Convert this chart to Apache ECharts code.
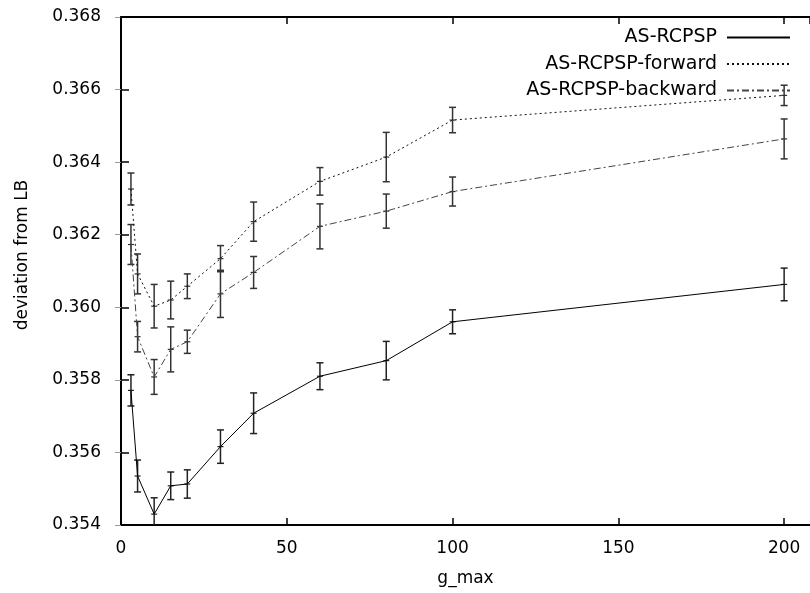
<!DOCTYPE html>
<html>
<head>
<meta charset="utf-8">
<script src="https://cdn.jsdelivr.net/npm/echarts@6/dist/echarts.min.js"></script>
<style>html,body{margin:0;padding:0;background:#fff}#c{width:810px;height:593px}</style>
</head>
<body>
<div id="c"></div>
<script>
const xs = [3, 5, 10, 15, 20, 30, 40, 60, 80, 100, 200];
const seriesNames = ['AS-RCPSP', 'AS-RCPSP-forward', 'AS-RCPSP-backward'];
const asMean = [0.35771, 0.35535, 0.35430, 0.35508, 0.35513, 0.35616, 0.35708, 0.35810, 0.35853, 0.35960, 0.36063];
const asErr  = [0.00043, 0.00044, 0.00045, 0.00038, 0.00039, 0.00046, 0.00056, 0.00037, 0.00053, 0.00033, 0.00045];
const fwMean = [0.36326, 0.36092, 0.36003, 0.36020, 0.36058, 0.36134, 0.36236, 0.36347, 0.36414, 0.36516, 0.36584];
const fwErr  = [0.00044, 0.00055, 0.00060, 0.00052, 0.00034, 0.00036, 0.00054, 0.00038, 0.00068, 0.00035, 0.00028];
const bwMean = [0.36173, 0.35919, 0.35808, 0.35884, 0.35905, 0.36037, 0.36096, 0.36223, 0.36265, 0.36319, 0.36464];
const bwErr  = [0.00055, 0.00042, 0.00048, 0.00062, 0.00032, 0.00065, 0.00044, 0.00062, 0.00047, 0.00040, 0.00055];
const xTicks = [0, 50, 100, 150, 200];
const yTicks = [0.354, 0.356, 0.358, 0.360, 0.362, 0.364, 0.366, 0.368];

const FONT = 'DejaVu Sans';
const chart = echarts.init(document.getElementById('c'), null, {renderer: 'canvas'});

function errRender(color) {
  return function (params, api) {
    const x = api.value(0), c = api.value(1), e = api.value(2);
    const pc = api.coord([x, c]);
    const ph = api.coord([x, c + e]);
    const pl = api.coord([x, c - e]);
    const hw = 3.5;
    const st = {stroke: color, lineWidth: 1.5};
    return {
      type: 'group',
      children: [
        {type: 'line', shape: {x1: pc[0], y1: pl[1], x2: pc[0], y2: ph[1]}, style: st},
        {type: 'line', shape: {x1: pc[0] - hw, y1: ph[1], x2: pc[0] + hw, y2: ph[1]}, style: st},
        {type: 'line', shape: {x1: pc[0] - hw, y1: pl[1], x2: pc[0] + hw, y2: pl[1]}, style: st},
        {type: 'line', shape: {x1: pc[0] - 3, y1: pc[1], x2: pc[0] + 3, y2: pc[1]}, style: {stroke: color, lineWidth: 1.2}}
      ]
    };
  };
}

const means = [asMean, fwMean, bwMean];
const errs = [asErr, fwErr, bwErr];
const lineTypes = ['solid', [2, 3], [7, 3, 2, 3]];
const lineColors = ['#000', '#111', '#444'];
const barColors = ['#222', '#333', '#333'];

const series = [];
for (let s = 0; s < 3; s++) {
  series.push({
    type: 'custom',
    name: 'err' + s,
    renderItem: errRender(barColors[s]),
    data: xs.map((x, i) => [x, means[s][i], errs[s][i]]),
    clip: true,
    z: 2,
    silent: true
  });
}
for (let s = 0; s < 3; s++) {
  series.push({
    type: 'line',
    name: seriesNames[s],
    data: xs.map((x, i) => [x, means[s][i]]),
    symbol: 'none',
    lineStyle: {color: lineColors[s], width: 1, type: lineTypes[s]},
    itemStyle: {color: lineColors[s]},
    z: 3,
    animation: false
  });
}

const option = {
  animation: false,
  backgroundColor: '#fff',
  grid: {left: 121, right: 0, top: 17, bottom: 68, containLabel: false},
  legend: {
    data: seriesNames,
    orient: 'vertical',
    align: 'right',
    right: 19,
    top: 28,
    padding: 0,
    itemWidth: 63,
    itemHeight: 14,
    itemGap: 7.5,
    itemStyle: {opacity: 0},
    textStyle: {fontFamily: FONT, fontSize: 19, color: '#000', lineHeight: 14, padding: [0, 5, 0, 0]}
  },
  xAxis: [{
    type: 'value',
    min: 0,
    max: 207.8,
    interval: 50,
    name: 'g_max',
    nameLocation: 'middle',
    nameGap: 45,
    nameTextStyle: {fontFamily: FONT, fontSize: 17, color: '#000'},
    axisLine: {show: true, lineStyle: {color: '#000', width: 2}},
    axisTick: {show: true, inside: true, length: 7, lineStyle: {color: '#000', width: 1.5}},
    axisLabel: {
      show: true, margin: 15, fontFamily: FONT, fontSize: 17, color: '#000', showMaxLabel: false,
      formatter: v => (xTicks.indexOf(v) >= 0 ? String(v) : '')
    },
    splitLine: {show: false}
  }, {
    type: 'value',
    position: 'top',
    min: 0,
    max: 207.8,
    interval: 50,
    axisLine: {show: true, lineStyle: {color: '#000', width: 2}},
    axisTick: {show: true, inside: true, length: 7, lineStyle: {color: '#000', width: 1.5}},
    axisLabel: {show: false},
    splitLine: {show: false}
  }],
  yAxis: [{
    type: 'value',
    min: 0.354,
    max: 0.368,
    interval: 0.002,
    name: 'deviation from LB',
    nameLocation: 'middle',
    nameGap: 90,
    nameTextStyle: {fontFamily: FONT, fontSize: 17, color: '#000', padding: [0, 0, 0, 32]},
    axisLine: {show: true, lineStyle: {color: '#000', width: 2}},
    axisTick: {show: true, inside: true, length: 8, lineStyle: {color: '#000', width: 1.5}},
    axisLabel: {
      margin: 20, fontFamily: FONT, fontSize: 17, color: '#000',
      formatter: v => v.toFixed(3)
    },
    splitLine: {show: false}
  }, {
    type: 'value',
    position: 'right',
    min: 0.354,
    max: 0.368,
    interval: 0.002,
    axisLine: {show: false},
    axisTick: {show: true, inside: true, length: 6, lineStyle: {color: '#999', width: 1}},
    axisLabel: {show: false},
    splitLine: {show: false}
  }],
  series: series
};
chart.setOption(option);
</script>
</body>
</html>
